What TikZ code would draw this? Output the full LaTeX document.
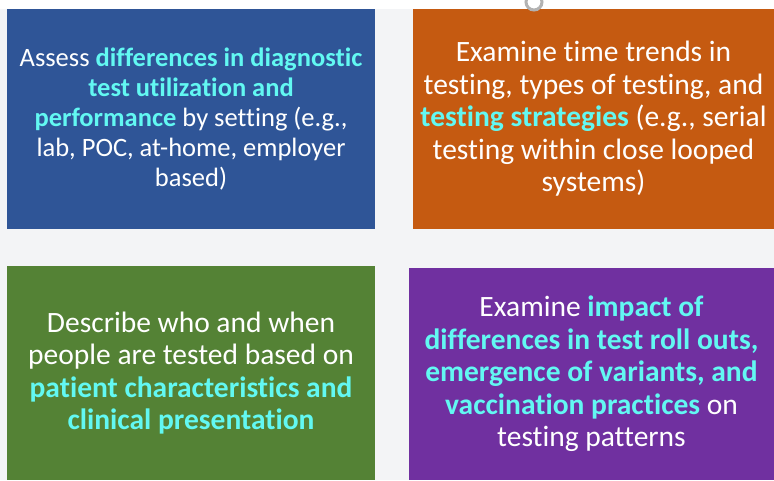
\documentclass[tikz,border=0pt]{standalone}
\usepackage{fontspec}
\setmainfont[Ligatures=NoCommon]{Carlito}
\definecolor{pagegray}{RGB}{243,244,246}
\definecolor{boxblue}{RGB}{47,85,151}
\definecolor{boxorange}{RGB}{197,90,17}
\definecolor{boxgreen}{RGB}{84,130,53}
\definecolor{boxpurple}{RGB}{112,48,160}
\definecolor{keycyan}{RGB}{98,248,242}
\newcommand{\keyterm}[1]{\textcolor{keycyan}{\textbf{#1}}}

\begin{document}
\begin{tikzpicture}[x=1pt, y=-1pt,
	box/.style={rectangle, inner sep=0pt, align=center, text=white,
		font=\fontsize{29.5}{32.5}\selectfont}]

	% Page
	\useasboundingbox (0,0) rectangle (774,480);
	\fill[white] (0,0) rectangle (774,480);
	\fill[pagegray] (0,9) rectangle (774,480);

	% Boxes
	\node[box, fill=boxblue, minimum width=368, minimum height=220,
		font=\fontsize{26.5}{29.8}\selectfont] (utilBox) at (191,119)
		{Assess \keyterm{differences in diagnostic}\\
		 \keyterm{test utilization and}\\
		 \keyterm{performance} by setting (e.g.,\\
		 lab, POC, at-home, employer\\
		 based)};
	\node[box, fill=boxorange, minimum width=361, minimum height=220] (trendBox) at (593.5,119)
		{Examine time trends in\\
		 testing, types of testing, and\\
		 \keyterm{testing strategies} (e.g., serial\\
		 testing within close looped\\
		 systems)};
	\node[box, fill=boxgreen, minimum width=368, minimum height=214] (whoBox) at (191,373)
		{Describe who and when\\
		 people are tested based on\\
		 \keyterm{patient characteristics and}\\
		 \keyterm{clinical presentation}};
	\node[box, fill=boxpurple, minimum width=365, minimum height=212] (impactBox) at (591.5,374)
		{Examine \keyterm{impact of}\\
		 \keyterm{differences in test roll outs,}\\
		 \keyterm{emergence of variants, and}\\
		 \keyterm{vaccination practices} on\\
		 testing patterns};

	% Handle
	\draw[gray!60, line width=3pt] (534,2) circle (8);
\end{tikzpicture}
\end{document}
